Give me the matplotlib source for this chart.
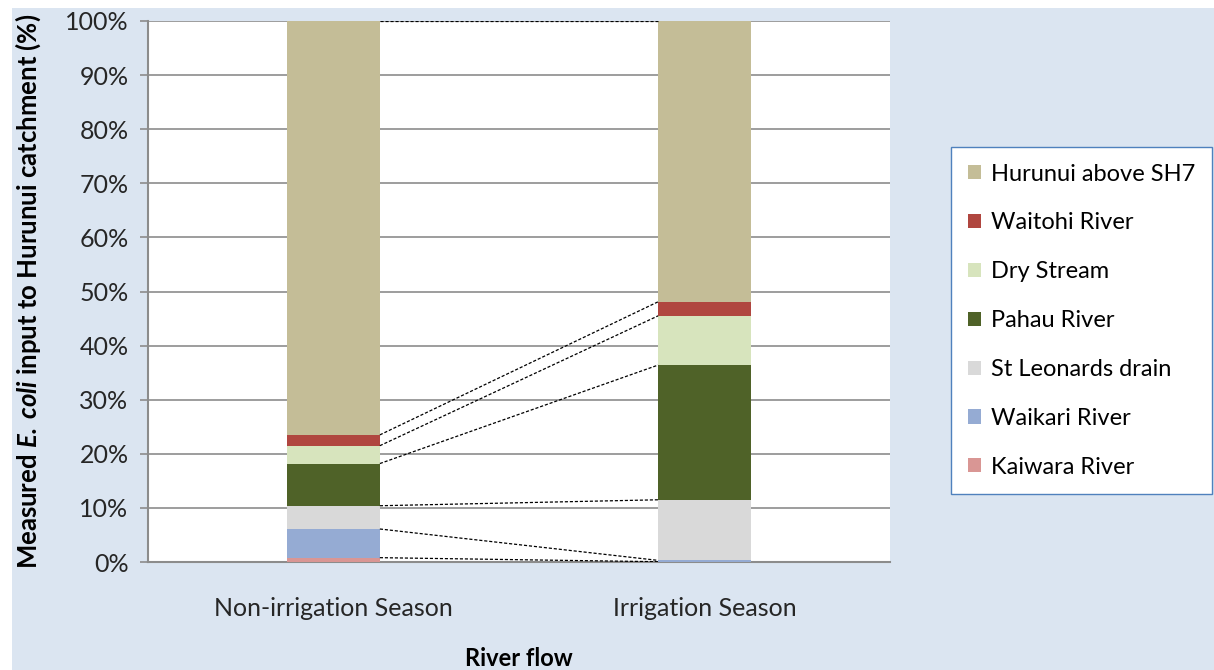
import numpy as np
import matplotlib.pyplot as plt
from matplotlib.patches import Rectangle, Patch

plt.rcParams['font.family'] = ['Lato', 'DejaVu Sans']
plt.rcParams['mathtext.fontset'] = 'custom'
plt.rcParams['mathtext.bfit'] = 'Lato:bold:italic'

# data (percent of total, bottom to top)
seasons = ["Non-irrigation Season", "Irrigation Season"]
sources = ["Kaiwara River", "Waikari River", "St Leonards drain", "Pahau River",
           "Dry Stream", "Waitohi River", "Hurunui above SH7"]
non_irrigation = [0.8, 5.3, 4.3, 7.8, 3.3, 2.0, 76.5]
irrigation = [0.05, 0.25, 11.2, 24.9, 9.1, 2.6, 51.9]
colors = ["#d99694", "#95abd3", "#d9d9d9", "#4f6228", "#d7e4bd", "#b0463f", "#c4bd97"]

vals = np.array([non_irrigation, irrigation]).T
x = np.arange(len(seasons))
w = 0.25

fig = plt.figure(figsize=(12.14, 6.7), dpi=100)
fig.patches.append(Rectangle((12 / 1214, 0), 1, 662 / 670, transform=fig.transFigure,
                             facecolor="#dbe5f1", edgecolor="none", zorder=-10))

ax = fig.add_axes([148 / 1214, 108 / 670, 742 / 1214, 541 / 670])
ax.set_facecolor("white")

bottom = np.zeros(len(seasons))
for i, name in enumerate(sources):
    ax.bar(x, vals[i], w, bottom=bottom, color=colors[i], label=name, zorder=3)
    bottom += vals[i]
    # series lines between the bars
    ax.plot([x[0] + w / 2, x[1] - w / 2], [bottom[0], bottom[1]],
            color="black", lw=0.9, ls=(0, (2.5, 1.5)), zorder=4)

ax.set_xlim(-0.5, 1.5)
ax.set_ylim(0, 100)
ax.set_yticks(np.arange(0, 101, 10))
ax.set_yticklabels([f"{v}%" for v in range(0, 101, 10)])
ax.yaxis.grid(True, color="#8c8c8c", lw=1.2, zorder=0)
ax.set_xticks(x)
ax.set_xticklabels(seasons)
ax.tick_params(axis="x", length=0, pad=25, labelsize=18, labelcolor="#262626")
ax.tick_params(axis="y", length=6, width=1.2, color="#8c8c8c", pad=8,
               labelsize=18, labelcolor="#262626")
for s in ["top", "right"]:
    ax.spines[s].set_visible(False)
for s in ["left", "bottom"]:
    ax.spines[s].set_color("#8c8c8c")
    ax.spines[s].set_linewidth(1.5)

ax.set_ylabel(r"Measured $\mathbfit{E.\,coli}$ input to Hurunui catchment (%)",
              fontsize=18.5, fontweight="bold", labelpad=16)
ax.set_xlabel("River flow", fontsize=17, fontweight="bold", labelpad=20)

handles = [Patch(facecolor=colors[i]) for i in range(len(sources))][::-1]
fig.legend(handles, sources[::-1], loc="upper left",
           bbox_to_anchor=(951 / 1214, 523 / 670), fontsize=17,
           frameon=True, fancybox=False, edgecolor="#4f81bd", framealpha=1,
           handlelength=0.55, handleheight=0.55, handletextpad=0.45,
           labelspacing=1.18, borderpad=0.7, borderaxespad=0)

fig.savefig("out.png", dpi=100)
